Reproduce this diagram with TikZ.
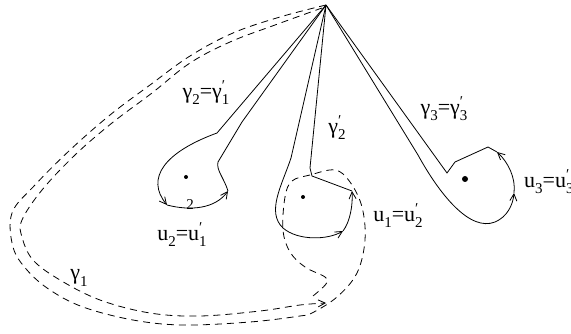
\documentclass[tikz,border=0pt]{standalone}
\usepackage{fontspec}
\setmainfont{Liberation Serif}
\usetikzlibrary{arrows.meta}

% prime above, index below
\newcommand{\ssub}[2]{\makebox[0pt][l]{\raisebox{0.75ex}{\fontsize{15}{15}\selectfont#1}}\raisebox{-0.65ex}{\fontsize{15}{15}\selectfont#2}}

\begin{document}
\begin{tikzpicture}[
  x=1pt, y=-1pt,
  >={Straight Barb[length=7pt, width=7pt]},
  curve/.style={line width=0.8pt, black},
  dcurve/.style={line width=0.8pt, black, dash pattern=on 7pt off 5pt},
  lbl/.style={font=\fontsize{22}{24}\selectfont, inner sep=0pt},
  puncture/.style={circle, fill=black, inner sep=0pt, minimum size=4pt},
]
\useasboundingbox (0,0) rectangle (571,334);

% base point
\coordinate (apex) at (326,5);

% =============================================
% Dashed loop gamma_1 (outer and inner strand)
% =============================================
\draw[dcurve] plot[smooth, tension=0.6] coordinates {
  (apex) (280,17) (233,33) (190,56) (150,85) (110,115) (70,150) (35,185)
  (12,213) (13,247) (27,270) (50,290) (83,307) (133,320) (183,325)
  (250,322) (300,316) (312,313) (337,297) (357,273) (365,240) (362,207)
  (350,182) (335,170) (310,175) (292,181) (285,197) (283,230) (290,252)
  (305,267) (325,277) (326,284) (313,296)};

\draw[dcurve, ->] plot[smooth, tension=0.6] coordinates {
  (322,8) (275,25) (230,42) (190,63) (152,93) (112,123) (75,155) (42,190)
  (22,220) (22,237) (33,260) (60,280) (100,300) (150,313) (200,316)
  (260,311) (300,305) (326,303)};

% =============================================
% Loop gamma_2 = gamma_1'
% =============================================
\coordinate (l1top) at (217,133);
\coordinate (l1left) at (167,205);
\coordinate (l1right) at (228,191);
\coordinate (l1neck) at (218,162);

\draw[curve, ->] (apex) -- (l1top)
  .. controls (165,152) and (145,178) .. (l1left);
\draw[curve, ->] (l1left) .. controls (190,211) and (215,209) .. (l1right);
\draw[curve] (l1right) .. controls (224,178) and (216,170) .. (l1neck)
  -- (242,122) -- (apex);

% =============================================
% Loop gamma_2'
% =============================================
\coordinate (l2top) at (291,158);
\coordinate (l2bot) at (343,231);
\coordinate (l2right) at (352,191);
\coordinate (l2neck) at (312,176);

\draw[curve, ->] (apex) -- (l2top)
  .. controls (282,185) and (266,212) .. (283,228)
  .. controls (298,241) and (328,240) .. (l2bot);
\draw[curve, ->] (l2bot) .. controls (350,222) and (353,205) .. (l2right);
\draw[curve] (l2right) -- (l2neck) -- (310,168) -- (apex);

% =============================================
% Loop gamma_3 = gamma_3'
% =============================================
\coordinate (l3top) at (418,155);
\coordinate (l3right) at (514,193);
\coordinate (l3upper) at (497,152);
\coordinate (l3neck) at (447,173);

\draw[curve, ->] (apex) -- (l3top)
  .. controls (440,195) and (470,232) .. (495,222)
  .. controls (507,217) and (513,205) .. (l3right);
\draw[curve, ->] (l3right) .. controls (516,178) and (508,162) .. (l3upper);
\draw[curve] (l3upper) -- (488,147) -- (455,162) -- (l3neck) -- (apex);

% punctures
\node[puncture] (p1) at (186,177) {};
\node[puncture] (p2) at (303,197) {};
\node[puncture, minimum size=6pt] (p3) at (465,179) {};

% labels
\node[lbl] (g21) at (206,93) {γ\ssub{}{2}=γ\ssub{′}{1}};
\node[lbl] (g2p) at (337,128) {γ\ssub{′}{2}};
\node[lbl] (g33) at (444,109) {γ\ssub{}{3}=γ\ssub{′}{3}};
\node[lbl] (g1) at (79,278) {γ\ssub{}{1}};
\node[lbl] (u21) at (182,235) {u\ssub{}{2}=u\ssub{′}{1}};
\node[lbl] (u12) at (398,216) {u\ssub{}{1}=u\ssub{′}{2}};
\node[lbl, anchor=west] (u33) at (524,182) {u\ssub{}{3}=u\ssub{′}{3}};
\node[font=\fontsize{15}{15}\selectfont, inner sep=0pt] (two) at (190,205) {2};

\end{tikzpicture}
\end{document}
